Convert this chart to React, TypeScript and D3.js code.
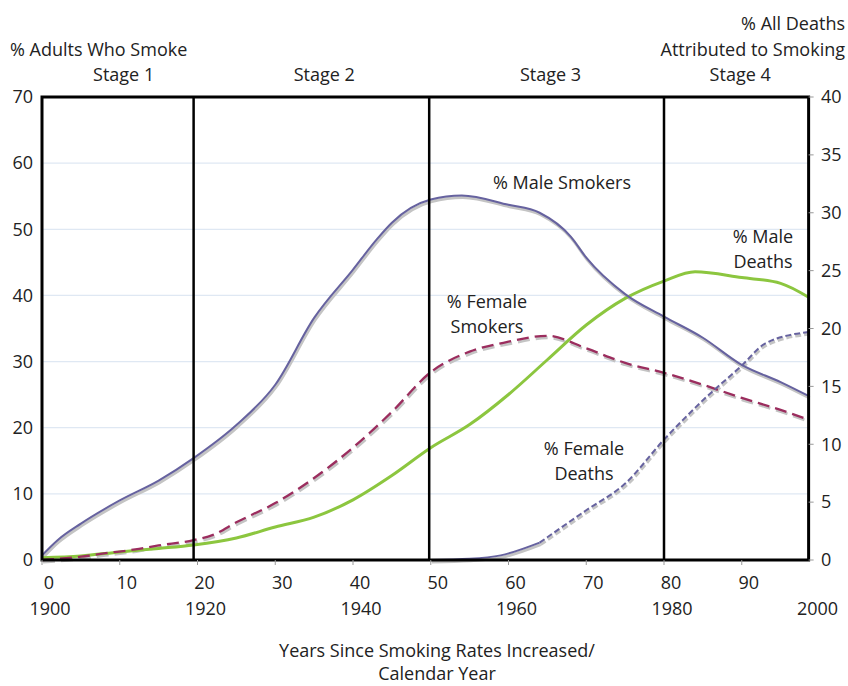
import React from "react";
import * as d3 from "d3";

const years = [0, 2, 5, 10, 15, 19.5, 25, 30, 35, 40, 43, 45, 50, 54, 60, 64, 68, 70, 75, 80, 85, 90, 95, 98.6];
const maleSmokers = [0.7, 3, 5.5, 9, 12, 15.4, 20.4, 26.5, 36.6, 43.9, 48.4, 51, 54.5, 55.1, 53.7, 52.5, 48.9, 45.7, 40.2, 36.8, 33.6, 29.5, 26.9, 24.8];

const fYears = [0, 5, 8, 12, 15, 19.5, 22, 25, 30, 35, 40, 45, 50, 55, 60, 65, 70, 75, 80, 85, 90, 95, 98.6];
const femaleSmokers = [0, 0.5, 1, 1.6, 2.2, 3, 3.8, 5.7, 8.6, 12.4, 17, 22.4, 28.4, 31.5, 33, 33.9, 32, 29.8, 28.3, 26.5, 24.5, 22.7, 21.2];

const mdYears = [0, 5, 10, 15, 19.5, 25, 30, 35, 40, 45, 50, 55, 60, 65, 70, 75, 80, 84, 90, 95, 98.6];
const maleDeaths = [0.2, 0.35, 0.7, 1, 1.3, 1.9, 2.85, 3.7, 5.2, 7.3, 9.7, 11.7, 14.3, 17.3, 20.3, 22.6, 24.1, 24.9, 24.4, 23.9, 22.7];

const fdYears = [50, 55, 59, 64, 70, 75, 80, 85, 90, 93, 98.6];
const femaleDeaths = [0, 0.1, 0.4, 1.5, 4.3, 6.6, 10.4, 13.8, 16.8, 18.7, 19.7];
const fdSolidUntil = 64;

const leftTicks = [0, 10, 20, 30, 40, 50, 60, 70];
const rightTicks = [0, 5, 10, 15, 20, 25, 30, 35, 40];
const xTicks = [0, 10, 20, 30, 40, 50, 60, 70, 80, 90];
const yearLabels = [
  { x: 0, label: "1900" },
  { x: 20, label: "1920" },
  { x: 40, label: "1940" },
  { x: 60, label: "1960" },
  { x: 80, label: "1980" },
  { x: 100, label: "2000" },
];
const stageBounds = [19.5, 49.8, 80];
const stages = [
  { x: 10.5, label: "Stage 1" },
  { x: 36.3, label: "Stage 2" },
  { x: 65.4, label: "Stage 3" },
  { x: 89.8, label: "Stage 4" },
];
const X_MAX = 98.6;

export default function App() {
  const W = 848, H = 686;
  const left = 42, top = 97, bottom = 560;
  const x = d3.scaleLinear().domain([0, 100]).range([left, 819.5]);
  const yL = d3.scaleLinear().domain([0, 70]).range([bottom, top]);
  const yR = d3.scaleLinear().domain([0, 40]).range([bottom, top]);
  const right = x(X_MAX);

  const mk = (xs: number[], ys: number[], sc: d3.ScaleLinear<number, number>) =>
    d3.line<number>().x((_, i) => x(xs[i])).y((v) => sc(v)).curve(d3.curveMonotoneX)(ys) || "";

  const pMale = mk(years, maleSmokers, yL);
  const pFemale = mk(fYears, femaleSmokers, yL);
  const pMD = mk(mdYears, maleDeaths, yR);
  const splitIdx = fdYears.indexOf(fdSolidUntil);
  const pFDa = mk(fdYears.slice(0, splitIdx + 1), femaleDeaths.slice(0, splitIdx + 1), yR);
  const pFDb = mk(fdYears.slice(splitIdx), femaleDeaths.slice(splitIdx), yR);

  const font = "'Open Sans', 'Noto Sans', sans-serif";
  const fs = 18;
  const purple = "#66629f";
  const maroon = "#9b2d5e";
  const green = "#8cc63f";
  const shadow = "#c4c4c4";

  return (
    <svg width={W} height={H} style={{ position: "absolute", left: 0, top: 0, background: "#fff" }} fontFamily={font} fontSize={fs} fill="#222">
      <rect x={0} y={0} width={W} height={H} fill="#fff" />
      {leftTicks.slice(1, -1).map((t) => (
        <line key={"g" + t} x1={left} x2={right} y1={yL(t)} y2={yL(t)} stroke="#dfe8f3" strokeWidth={1.2} />
      ))}
      <g transform="translate(1,2)" fill="none" stroke={shadow} strokeWidth={3}>
        <path d={pMale} />
        <path d={pFemale} strokeDasharray="12 6" />
        <path d={pFDa} />
        <path d={pFDb} strokeDasharray="6 3" />
      </g>
      <g fill="none">
        <path d={pMD} stroke={green} strokeWidth={3} />
        <path d={pMale} stroke={purple} strokeWidth={2} />
        <path d={pFemale} stroke={maroon} strokeWidth={2.3} strokeDasharray="12 6" />
        <path d={pFDa} stroke={purple} strokeWidth={2} />
        <path d={pFDb} stroke={purple} strokeWidth={2} strokeDasharray="6 3" />
      </g>
      <rect x={left} y={top} width={right - left} height={bottom - top} fill="none" stroke="#000" strokeWidth={3} />
      {stageBounds.map((s) => (
        <line key={"s" + s} x1={x(s)} x2={x(s)} y1={top} y2={bottom} stroke="#000" strokeWidth={2.5} />
      ))}
      {leftTicks.map((t) => (
        <text key={"l" + t} x={33} y={yL(t)} dy="0.35em" textAnchor="end">{t}</text>
      ))}
      {rightTicks.map((t) => (
        <g key={"r" + t}>
          <line x1={right} x2={right + 5} y1={yR(t)} y2={yR(t)} stroke="#999" />
          <text x={821} y={yR(t)} dy="0.35em">{t}</text>
        </g>
      ))}
      {xTicks.map((t) => (
        <g key={"x" + t}>
          <line x1={x(t)} x2={x(t)} y1={bottom} y2={bottom + 5} stroke="#999" />
          <text x={x(t) + 7} y={583} dy="0.35em" textAnchor="middle">{t}</text>
        </g>
      ))}
      {yearLabels.map((d) => (
        <text key={d.label} x={x(d.x) + (d.x === 100 ? -2 : 8)} y={609} dy="0.35em" textAnchor="middle">{d.label}</text>
      ))}
      <text x={437} y={651} dy="0.35em" textAnchor="middle">Years Since Smoking Rates Increased/</text>
      <text x={437} y={674} dy="0.35em" textAnchor="middle">Calendar Year</text>
      <text x={10} y={50} dy="0.35em">% Adults Who Smoke</text>
      <text x={845} y={24} dy="0.35em" textAnchor="end">% All Deaths</text>
      <text x={845} y={50} dy="0.35em" textAnchor="end">Attributed to Smoking</text>
      {stages.map((s) => (
        <text key={s.label} x={x(s.x)} y={75} dy="0.35em" textAnchor="middle">{s.label}</text>
      ))}
      <text x={562} y={183} dy="0.35em" textAnchor="middle">% Male Smokers</text>
      <text x={487} y={302} dy="0.35em" textAnchor="middle">% Female</text>
      <text x={487} y={327} dy="0.35em" textAnchor="middle">Smokers</text>
      <text x={763} y={237} dy="0.35em" textAnchor="middle">% Male</text>
      <text x={763} y={262} dy="0.35em" textAnchor="middle">Deaths</text>
      <text x={584} y={449} dy="0.35em" textAnchor="middle">% Female</text>
      <text x={584} y={474} dy="0.35em" textAnchor="middle">Deaths</text>
    </svg>
  );
}
